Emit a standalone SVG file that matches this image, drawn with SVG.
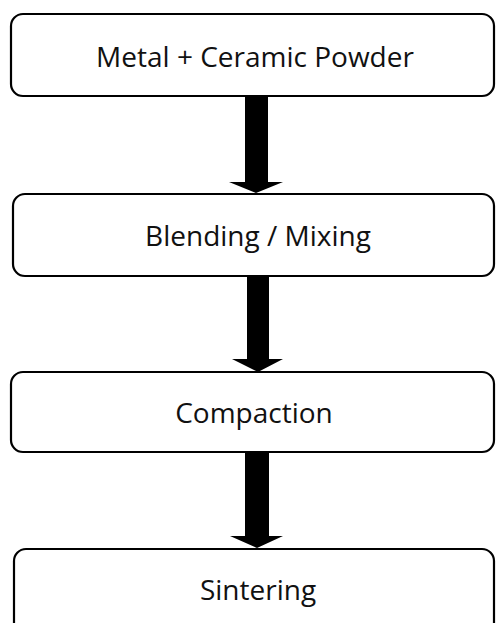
<svg xmlns="http://www.w3.org/2000/svg" width="496" height="623" viewBox="0 0 496 623">
<style>
.box{fill:#fff;stroke:#000;stroke-width:2.2}
.lbl{font-family:"Open Sans","Noto Sans",sans-serif;font-size:28px;font-weight:500;fill:#111;text-anchor:middle}
.arr{fill:#000}
</style>
<rect width="496" height="623" fill="#fff"/>
<g id="n1"><rect class="box" x="11" y="14" width="483" height="82" rx="12"/><text class="lbl" x="255" y="67">Metal + Ceramic Powder</text></g>
<g id="n2"><rect class="box" x="13" y="194" width="481" height="82" rx="12"/><text class="lbl" x="258" y="246">Blending / Mixing</text></g>
<g id="n3"><rect class="box" x="11" y="372" width="483" height="80" rx="12"/><text class="lbl" x="254" y="423">Compaction</text></g>
<g id="n4"><rect class="box" x="14" y="549" width="480" height="90" rx="12"/><text class="lbl" x="258" y="600">Sintering</text></g>
<g id="connectors">
<polygon class="arr" points="245,96 268,96 268,182 283,182 256,193 229,182 245,182"/>
<polygon class="arr" points="247,276 269,276 269,359 283,359 258,372 232,359 247,359"/>
<polygon class="arr" points="245,452 269,452 269,536 283,536 257,548 230,536 245,536"/>
</g>
</svg>
